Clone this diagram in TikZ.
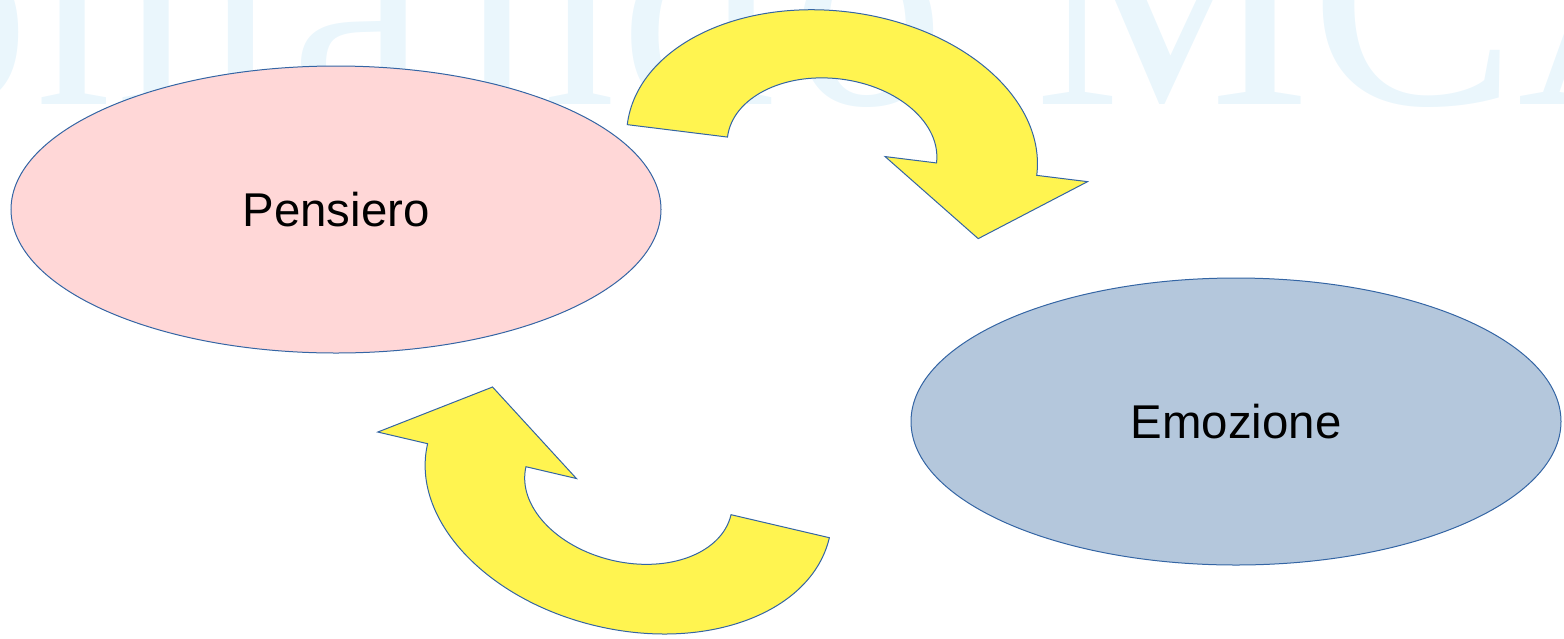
\documentclass[tikz,border=0pt]{standalone}
\usepackage{fontspec}
\setmainfont{Liberation Sans}
\newfontfamily\wmfont{Liberation Serif}
\usetikzlibrary{shapes.geometric}
\definecolor{thinkpink}{RGB}{255,215,215}
\definecolor{feelblue}{RGB}{180,199,220}
\definecolor{loopyellow}{RGB}{255,244,80}
\definecolor{edgeblue}{RGB}{52,101,164}
\definecolor{wmblue}{RGB}{234,246,252}
\tikzset{bubble/.style={ellipse, draw=edgeblue, fill=#1, line width=0.5pt,
             minimum width=325pt, minimum height=143.5pt, inner sep=0pt,
             font=\fontsize{23.7}{28}\selectfont},
         loop fill/.style={draw=edgeblue, fill=loopyellow, line width=0.5pt, line join=miter},
         wmark/.style={anchor=base west, inner sep=0pt, text=wmblue,
             font=\wmfont\fontsize{155}{160}\selectfont},
         loop arrow/.pic={
           \path[loop fill] (206.3,0) arc[start angle=0, end angle=180, x radius=103.15pt, y radius=69.5pt]
             -- (-105.3,0) arc[start angle=180, end angle=0, x radius=52.65pt, y radius=35.75pt]
             -- (53.5,0) -- (156,70) -- (257.5,0) -- cycle;
         }}

\begin{document}
\begin{tikzpicture}[x=0.5pt, y=-0.5pt]
  \useasboundingbox (0,0) rectangle (1564,638);
  \begin{scope}
    \clip (0,0) rectangle (1564,638);
    \foreach \ch/\xx [count=\i] in {o/-125, m/35, a/290, n/460, d/620, o/790, M/1034, C/1310, A/1517}
      \node[wmark] (wm\i) at (\xx,104) {\ch};
  \end{scope}
  \node[bubble=thinkpink] (pensiero) at (336,209.5) {Pensiero};
  \node[bubble=feelblue]  (emozione) at (1236,421.5) {Emozione};
  \pic[rotate=-7.06]   (toploop)    at (832,150)     {loop arrow};
  \pic[rotate=-193.17] (bottomloop) at (628.5,490.7) {loop arrow};
\end{tikzpicture}
\end{document}
